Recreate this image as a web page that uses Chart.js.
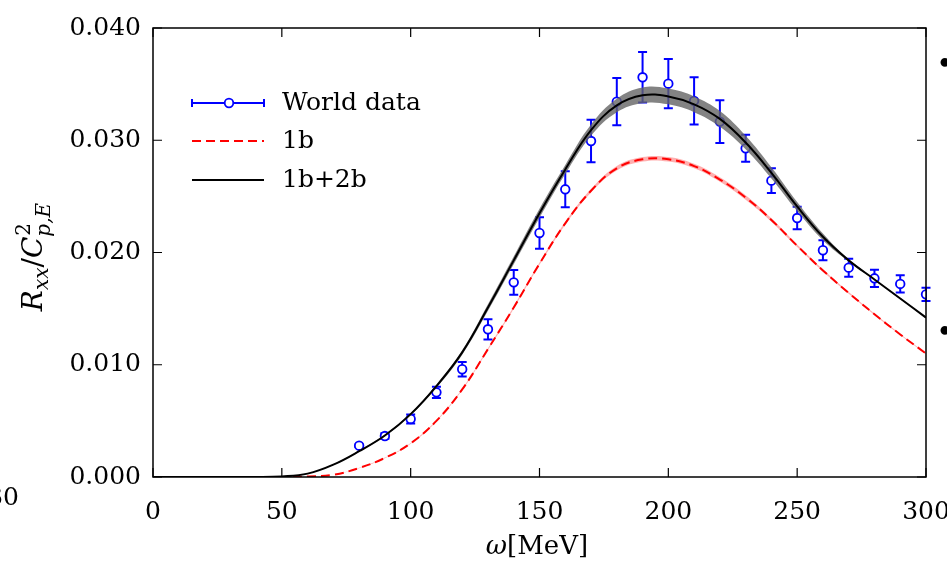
<!DOCTYPE html>
<html>
<head>
<meta charset="utf-8">
<script src="https://cdn.jsdelivr.net/npm/chart.js@4.4.1/dist/chart.umd.min.js"></script>
<style>
  html, body { margin: 0; padding: 0; background: #fff; overflow: hidden; }
  canvas { display: block; }
</style>
</head>
<body>
<canvas id="chart" width="947" height="562"></canvas>
<script>
// omega grid for the theory curves (MeV)
const omega = [0, 10, 20, 30, 40, 50, 60, 70, 80, 90, 100, 110, 120, 130, 140, 150,
               160, 170, 180, 190, 200, 210, 220, 230, 240, 250, 260, 270, 280, 290, 300];

// 1b+2b (black) and its band half width
const oneTwoBody = [0, 0, 0, 0, 0, 0.00005, 0.0003, 0.0011, 0.0023, 0.0037, 0.0056, 0.0081, 0.0111, 0.0151, 0.0193, 0.0235,
                    0.0274, 0.0309, 0.0331, 0.0340, 0.0339, 0.0332, 0.0319, 0.0298, 0.0271, 0.0241, 0.0214, 0.0193, 0.0176, 0.0159, 0.0142];
const oneTwoBodyErr = [0, 0, 0, 0, 0, 0, 0, 0.00003, 0.00005, 0.00008, 0.0001, 0.00015, 0.0002, 0.0003, 0.00035, 0.0004,
                       0.0004, 0.0005, 0.0006, 0.0007, 0.0007, 0.0007, 0.0007, 0.0006, 0.0005, 0.0004, 0.0003, 0.0001, 0.00005, 0.00005, 0.00005];

// 1b (red dashed) and its band half width
const oneBody = [0, 0, 0, 0, 0, 0, 0.00005, 0.0002, 0.0008, 0.0017, 0.0030, 0.0050, 0.0078, 0.0114, 0.0151, 0.0190,
                 0.0226, 0.0255, 0.0275, 0.0283, 0.0283, 0.0277, 0.0265, 0.0249, 0.0229, 0.0206, 0.0184, 0.0164, 0.0145, 0.0127, 0.0110];
const oneBodyErr = [0, 0, 0, 0, 0, 0, 0, 0, 0.00002, 0.00003, 0.00004, 0.00005, 0.00006, 0.00008, 0.0001, 0.0001,
                    0.00012, 0.00015, 0.0002, 0.0002, 0.0002, 0.0002, 0.0002, 0.0002, 0.00015, 0.00012, 0.0001, 0.00008, 0.00006, 0.00005, 0.00005];

// world data
const dataOmega = [80, 90, 100, 110, 120, 130, 140, 150, 160, 170, 180, 190, 200, 210, 220, 230, 240, 250, 260, 270, 280, 290, 300];
const dataR = [0.00279, 0.00365, 0.00517, 0.00754, 0.0096, 0.01316, 0.01734, 0.02174, 0.02563, 0.02993, 0.03344, 0.03561,
               0.03504, 0.03351, 0.03166, 0.02928, 0.0264, 0.02307, 0.0202, 0.01865, 0.0177, 0.0172, 0.01627];
const dataErr = [0.0001, 0.00025, 0.0004, 0.0005, 0.00065, 0.0009, 0.0011, 0.0014, 0.0016, 0.0019, 0.0021, 0.00225,
                 0.0022, 0.0021, 0.0019, 0.0012, 0.0011, 0.001, 0.0009, 0.0008, 0.00077, 0.00077, 0.0006];

const xTicks = [0, 50, 100, 150, 200, 250, 300];
const yTicks = [0, 0.01, 0.02, 0.03, 0.04];

const serif = "'DejaVu Serif', serif";
const blue = '#0000ff';

const pts = (xs, ys) => xs.map((x, i) => ({ x: x, y: ys[i] }));
const hi = (ys, es) => ys.map((y, i) => y + es[i]);
const lo = (ys, es) => ys.map((y, i) => Math.max(0, y - es[i]));

const plotDecor = {
    id: 'plotDecor',
    beforeDatasetsDraw(chart) {
        const ctx = chart.ctx;
        const xs = chart.scales.x, ys = chart.scales.y;
        ctx.save();
        ctx.strokeStyle = blue;
        ctx.lineWidth = 2;
        for (let i = 0; i < dataOmega.length; i++) {
            const px = xs.getPixelForValue(dataOmega[i]);
            const top = ys.getPixelForValue(dataR[i] + dataErr[i]);
            const bot = ys.getPixelForValue(dataR[i] - dataErr[i]);
            ctx.beginPath();
            ctx.moveTo(px, top); ctx.lineTo(px, bot);
            ctx.moveTo(px - 4.5, top); ctx.lineTo(px + 4.5, top);
            ctx.moveTo(px - 4.5, bot); ctx.lineTo(px + 4.5, bot);
            ctx.stroke();
        }
        ctx.restore();
    },
    afterDatasetsDraw(chart) {
        const ctx = chart.ctx;
        const a = chart.chartArea;
        const xs = chart.scales.x, ys = chart.scales.y;
        ctx.save();
        // frame
        ctx.strokeStyle = '#000';
        ctx.lineWidth = 1.5;
        ctx.strokeRect(a.left, a.top, a.right - a.left, a.bottom - a.top);
        // inward ticks on all sides
        ctx.lineWidth = 1.2;
        ctx.beginPath();
        xTicks.forEach(v => {
            const px = xs.getPixelForValue(v);
            ctx.moveTo(px, a.bottom); ctx.lineTo(px, a.bottom - 9);
            ctx.moveTo(px, a.top); ctx.lineTo(px, a.top + 9);
        });
        yTicks.forEach(v => {
            const py = ys.getPixelForValue(v);
            ctx.moveTo(a.left, py); ctx.lineTo(a.left + 9, py);
            ctx.moveTo(a.right, py); ctx.lineTo(a.right - 9, py);
        });
        ctx.stroke();

        // legend
        const lx0 = 192, lx1 = 264, tx = 282;
        ctx.font = '25px ' + serif;
        ctx.fillStyle = '#000';
        ctx.textBaseline = 'middle';
        ctx.textAlign = 'left';
        // world data
        ctx.strokeStyle = blue;
        ctx.lineWidth = 2;
        ctx.beginPath();
        ctx.moveTo(lx0, 103); ctx.lineTo(lx1, 103);
        ctx.moveTo(lx0, 99); ctx.lineTo(lx0, 107);
        ctx.moveTo(lx1, 99); ctx.lineTo(lx1, 107);
        ctx.stroke();
        ctx.beginPath();
        ctx.arc(229, 103, 4.3, 0, Math.PI * 2);
        ctx.fillStyle = '#fff';
        ctx.fill();
        ctx.lineWidth = 1.8;
        ctx.stroke();
        ctx.fillStyle = '#000';
        ctx.fillText('World data', tx, 103);
        // 1b
        ctx.strokeStyle = '#ff0000';
        ctx.lineWidth = 2;
        ctx.setLineDash([9, 5]);
        ctx.beginPath();
        ctx.moveTo(lx0, 141); ctx.lineTo(lx1, 141);
        ctx.stroke();
        ctx.setLineDash([]);
        ctx.fillText('1b', tx, 141);
        // 1b+2b
        ctx.strokeStyle = '#000';
        ctx.beginPath();
        ctx.moveTo(lx0, 180); ctx.lineTo(lx1, 180);
        ctx.stroke();
        ctx.fillText('1b+2b', tx, 180);
        ctx.restore();
    },
    afterDraw(chart) {
        const ctx = chart.ctx;
        ctx.save();
        ctx.fillStyle = '#000';
        ctx.textBaseline = 'alphabetic';
        // x title
        const big = 26;
        ctx.font = 'italic ' + big + 'px ' + serif;
        const w1 = ctx.measureText('ω').width;
        ctx.font = big + 'px ' + serif;
        const w2 = ctx.measureText('[MeV]').width;
        let x0 = 537 - (w1 + w2) / 2;
        ctx.font = 'italic ' + big + 'px ' + serif;
        ctx.fillText('ω', x0, 554);
        ctx.font = big + 'px ' + serif;
        ctx.fillText('[MeV]', x0 + w1, 554);

        // y title, rotated
        const yb = 28, ys = 20;
        ctx.translate(42, 257);
        ctx.rotate(-Math.PI / 2);
        const parts = [
            { t: 'R', f: 'italic ' + yb + 'px ' + serif, dy: 0 },
            { t: 'xx', f: 'italic ' + ys + 'px ' + serif, dy: 6 },
            { t: '/', f: yb + 'px ' + serif, dy: 0 },
            { t: 'C', f: 'italic ' + yb + 'px ' + serif, dy: 0 },
            { t: 'p,E', f: 'italic ' + ys + 'px ' + serif, dy: 8, sup: '2' }
        ];
        let total = 0;
        parts.forEach(p => { ctx.font = p.f; p.w = ctx.measureText(p.t).width; total += p.w; });
        let cx = -total / 2;
        parts.forEach(p => {
            ctx.font = p.f;
            ctx.fillText(p.t, cx, p.dy);
            if (p.sup) {
                ctx.font = ys + 'px ' + serif;
                ctx.fillText(p.sup, cx + 1, -12);
            }
            cx += p.w;
        });
        ctx.setTransform(1, 0, 0, 1, 0, 0);

        // pieces of neighbouring panels cut by the crop
        ctx.font = '25px ' + serif;
        ctx.textAlign = 'right';
        ctx.textBaseline = 'middle';
        ctx.fillText('30', 19, 498);
        ctx.textAlign = 'left';
        ctx.font = '30px ' + serif;
        ctx.fillText('•', 936, 66);
        ctx.fillText('•', 936, 334);
        ctx.restore();
    }
};

const curve = { pointRadius: 0, tension: 0.4 };

const ctx = document.getElementById('chart').getContext('2d');
const chart = new Chart(ctx, {
    type: 'line',
    data: {
        datasets: [
            Object.assign({
                label: '1b+2b',
                data: pts(omega, oneTwoBody),
                borderColor: '#000',
                borderWidth: 2,
                fill: false,
                order: 0
            }, curve),
            Object.assign({
                label: '1b',
                data: pts(omega, oneBody),
                borderColor: '#ff0000',
                borderWidth: 2,
                borderDash: [9, 5],
                fill: false,
                order: 0
            }, curve),
            Object.assign({
                label: 'band 1b+2b hi',
                data: pts(omega, hi(oneTwoBody, oneTwoBodyErr)),
                borderWidth: 0,
                backgroundColor: 'rgba(100,100,100,0.8)',
                fill: '+1',
                order: 1
            }, curve),
            Object.assign({
                label: 'band 1b+2b lo',
                data: pts(omega, lo(oneTwoBody, oneTwoBodyErr)),
                borderWidth: 0,
                fill: false,
                order: 1
            }, curve),
            Object.assign({
                label: 'band 1b hi',
                data: pts(omega, hi(oneBody, oneBodyErr)),
                borderWidth: 0,
                backgroundColor: 'rgba(255,110,110,0.55)',
                fill: '+1',
                order: 1
            }, curve),
            Object.assign({
                label: 'band 1b lo',
                data: pts(omega, lo(oneBody, oneBodyErr)),
                borderWidth: 0,
                fill: false,
                order: 1
            }, curve),
            {
                label: 'World data',
                data: pts(dataOmega, dataR),
                showLine: false,
                pointRadius: 4.3,
                pointBackgroundColor: '#fff',
                pointBorderColor: blue,
                pointBorderWidth: 1.8,
                order: 2
            }
        ]
    },
    options: {
        responsive: false,
        animation: false,
        devicePixelRatio: 1,
        layout: { padding: { top: 28, right: 21, left: 0, bottom: 0 } },
        plugins: {
            legend: { display: false },
            tooltip: { enabled: false }
        },
        scales: {
            x: {
                type: 'linear',
                min: 0,
                max: 300,
                afterBuildTicks: s => { s.ticks = xTicks.map(v => ({ value: v })); },
                ticks: { color: '#000', font: { family: serif, size: 25 }, padding: 20, maxRotation: 0 },
                grid: { display: false, drawTicks: false },
                border: { display: false },
                afterFit: s => { s.height = 85; s.paddingLeft = 0; s.paddingRight = 0; }
            },
            y: {
                min: 0,
                max: 0.04,
                afterBuildTicks: s => { s.ticks = yTicks.map(v => ({ value: v })); },
                ticks: { color: '#000', font: { family: serif, size: 25 }, padding: 12,
                         callback: v => v.toFixed(3) },
                grid: { display: false, drawTicks: false },
                border: { display: false },
                afterFit: s => { s.width = 153; s.paddingTop = 0; s.paddingBottom = 0; }
            }
        }
    },
    plugins: [plotDecor]
});
</script>
</body>
</html>
